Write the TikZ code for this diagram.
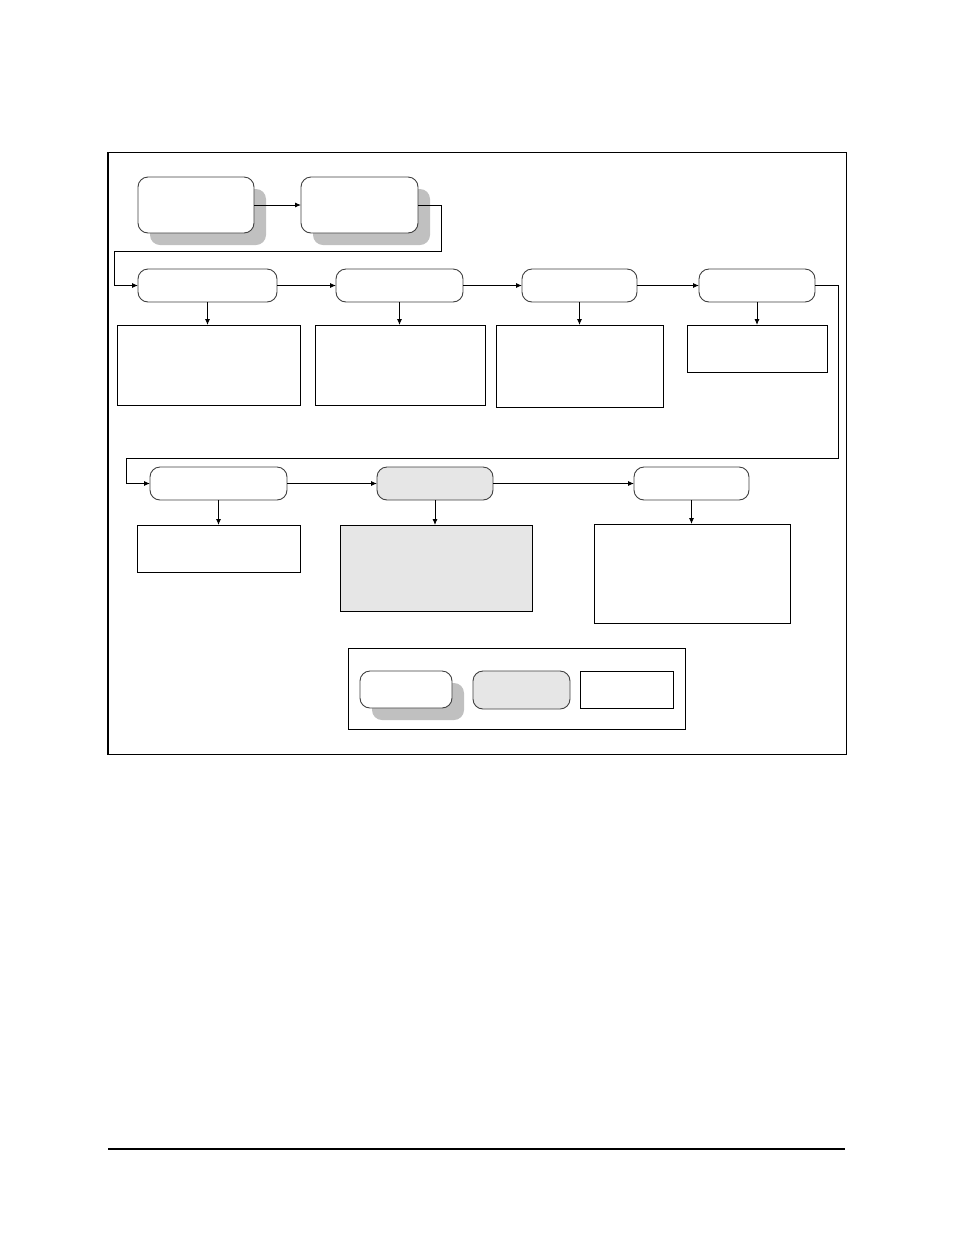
\documentclass[tikz,border=0pt]{standalone}
\usetikzlibrary{arrows.meta,shadows}
\definecolor{shadowgray}{HTML}{C0C0C0}
\definecolor{lightfill}{HTML}{E6E6E6}
\definecolor{edgegray}{HTML}{404040}
\tikzset{
  rbox/.style={draw=edgegray, line width=0.9pt, rounded corners=10pt, fill=white, inner sep=0pt, outer sep=0pt},
  shadowed/.style={drop shadow={shadow xshift=12pt, shadow yshift=-12pt, fill=shadowgray, opacity=1}},
  grayfill/.style={fill=lightfill},
  rect/.style={draw=black, line width=1pt, fill=white, inner sep=0pt, outer sep=0pt},
  arr/.style={draw=black, line width=0.9pt, -{Latex[length=6pt,width=5pt]}},
  link/.style={draw=black, line width=0.9pt},
  frameline/.style={draw=black, line width=1.1pt}
}
\begin{document}
\begin{tikzpicture}[x=1pt,y=-1pt]
\useasboundingbox (0,0) rectangle (954,1235);
% outer frame
\node[frameline, minimum width=738.5pt, minimum height=602.5pt, inner sep=0pt, outer sep=0pt] (frame) at (477,453.5) {};
\draw[line width=2.2pt] ([xshift=0.5pt]frame.north west) -- ([xshift=0.5pt]frame.south west);
% top row
\node[rbox, shadowed, minimum width=116pt, minimum height=56pt] (A) at (196,205) {};
\node[rbox, shadowed, minimum width=117pt, minimum height=56pt] (B) at (359.5,205) {};
% second row
\node[rbox, minimum width=139pt, minimum height=33pt] (C) at (207.5,285.5) {};
\node[rbox, minimum width=127pt, minimum height=33pt] (D) at (399.5,285.5) {};
\node[rbox, minimum width=115pt, minimum height=33pt] (E) at (579.5,285.5) {};
\node[rbox, minimum width=116pt, minimum height=33pt] (F) at (757,285.5) {};
\node[rect, minimum width=183pt, minimum height=80pt] (rC) at (208.5,365) {};
\node[rect, minimum width=170pt, minimum height=80pt] (rD) at (400,365) {};
\node[rect, minimum width=167pt, minimum height=82pt] (rE) at (579.5,366) {};
\node[rect, minimum width=140pt, minimum height=47pt] (rF) at (757,348.5) {};
% third row
\node[rbox, minimum width=137pt, minimum height=33pt] (G) at (218.5,483.5) {};
\node[rbox, grayfill, minimum width=116pt, minimum height=33pt] (H) at (435,483.5) {};
\node[rbox, minimum width=115pt, minimum height=33pt] (I) at (691.5,483.5) {};
\node[rect, minimum width=163pt, minimum height=47pt] (rG) at (218.5,548.5) {};
\node[rect, grayfill, minimum width=192pt, minimum height=86pt] (rH) at (436,568) {};
\node[rect, minimum width=196pt, minimum height=99pt] (rI) at (692,573.5) {};
% legend
\node[rect, minimum width=337pt, minimum height=81pt] (legend) at (516.5,688.5) {};
\node[rbox, shadowed, minimum width=92pt, minimum height=37pt] (LA) at (406,689.5) {};
\node[rbox, grayfill, minimum width=97pt, minimum height=38pt] (LB) at (521.5,690) {};
\node[rect, minimum width=93pt, minimum height=37pt] (LC) at (626.5,689.5) {};
% route coordinates
\coordinate (k1) at (441,251);
\coordinate (k2) at (114,251);
\coordinate (k3) at (838,458);
\coordinate (k4) at (126,458);
\coordinate (footL) at (108,1149);
\coordinate (footR) at (845,1149);
% connectors
\draw[arr] (A.east) -- (B.west);
\draw[arr] (B.east) -| (k1) -- (k2) |- (C.west);
\draw[arr] (C.east) -- (D.west);
\draw[arr] (D.east) -- (E.west);
\draw[arr] (E.east) -- (F.west);
\draw[arr] (F.east) -| (k3) -- (k4) |- (G.west);
\draw[arr] (G.east) -- (H.west);
\draw[arr] (H.east) -- (I.west);
\draw[arr] (C.south) -- (C.south |- rC.north);
\draw[arr] (D.south) -- (D.south |- rD.north);
\draw[arr] (E.south) -- (E.south |- rE.north);
\draw[arr] (F.south) -- (F.south |- rF.north);
\draw[arr] (G.south) -- (G.south |- rG.north);
\draw[arr] (H.south) -- (H.south |- rH.north);
\draw[arr] (I.south) -- (I.south |- rI.north);
% footer rule
\draw[link, line width=1.2pt] (footL) -- (footR);
\end{tikzpicture}
\end{document}
